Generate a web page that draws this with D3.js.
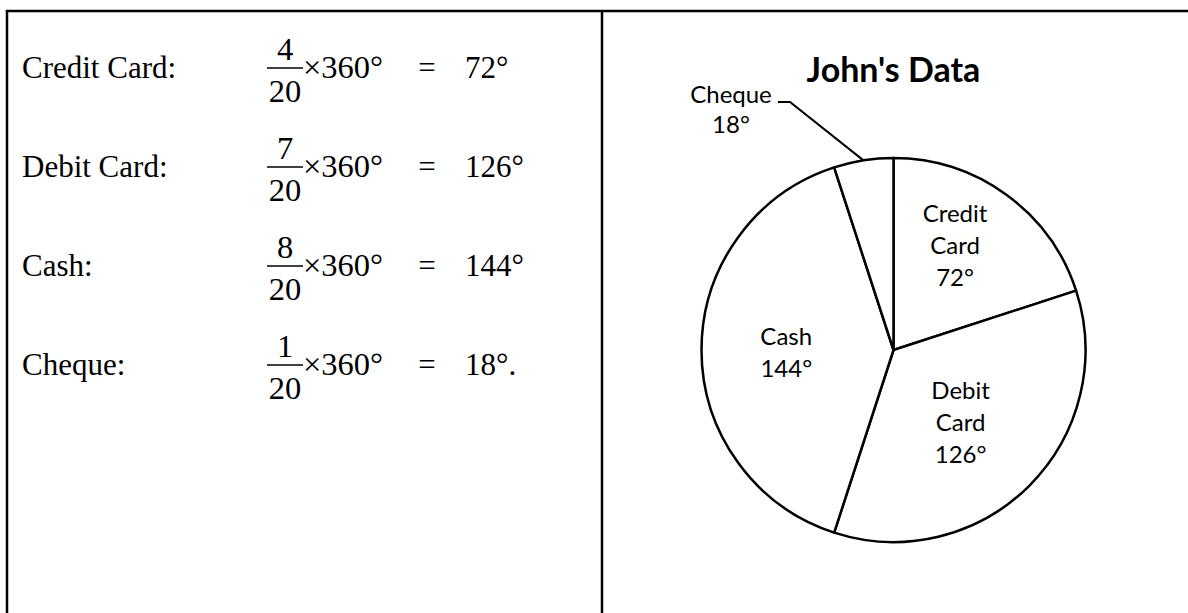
<!DOCTYPE html>
<html>
<head>
<meta charset="utf-8">
<script src="https://cdn.jsdelivr.net/npm/d3@7"></script>
<style>
  body { margin: 0; background: #fff; }
  svg { display: block; }
</style>
</head>
<body>
<div id="chart"></div>
<script>
const categories = ["Credit Card", "Debit Card", "Cash", "Cheque"];
const counts = [4, 7, 8, 1];
const total = 20;
const degrees = [72, 126, 144, 18];
const pieLabels = [["Credit", "Card", "72°"], ["Debit", "Card", "126°"], ["Cash", "144°"], ["Cheque", "18°"]];
const title = "John's Data";

const W = 1188, H = 613;
const serif = "'Liberation Serif', 'Times New Roman', serif";
const sans = "Lato, 'Open Sans', sans-serif";

const svg = d3.select("#chart").append("svg").attr("width", W).attr("height", H);

// Table borders (the bottom and right edges are cut off in the picture)
const borders = svg.append("g").attr("stroke", "#000").attr("stroke-width", 2.5);
borders.append("line").attr("x1", 5.8).attr("x2", W).attr("y1", 11).attr("y2", 11);
borders.append("line").attr("x1", 7).attr("x2", 7).attr("y1", 11).attr("y2", H);
borders.append("line").attr("x1", 602).attr("x2", 602).attr("y1", 11).attr("y2", H);

// Left cell: the working for each angle
const rowY = d3.scalePoint().domain(categories).range([68, 365]);
const rows = svg.append("g").style("font-family", serif).style("font-size", "31px").attr("fill", "#000")
  .selectAll("g").data(categories).join("g")
  .attr("transform", d => `translate(0,${rowY(d)})`);

rows.append("text").attr("x", 22).attr("y", 10).text(d => d + ":");
const math = rows.append("g").style("font-size", "32.5px");
math.append("text").attr("x", 285).attr("y", -8).attr("text-anchor", "middle").text((d, i) => counts[i]);
math.append("line").attr("x1", 267).attr("x2", 303).attr("y1", 0).attr("y2", 0).attr("stroke", "#000").attr("stroke-width", 1.3);
math.append("text").attr("x", 285).attr("y", 34).attr("text-anchor", "middle").text(total);
math.append("text").attr("x", 303).attr("y", 10).text("×360°");
rows.append("text").attr("x", 427).attr("y", 10).attr("text-anchor", "middle").text("=");
rows.append("text").attr("x", 465).attr("y", 10).text((d, i) => degrees[i] + "°" + (i === categories.length - 1 ? "." : ""));

// Right cell: the pie chart
const cx = 893.5, cy = 350, r = 192;
const g = svg.append("g").attr("transform", `translate(${cx},${cy})`);

const pie = d3.pie().sort(null).value(d => d);
const arcs = pie(counts);
const arc = d3.arc().innerRadius(0).outerRadius(r);

g.selectAll("path").data(arcs).join("path")
  .attr("d", arc)
  .attr("fill", "#fff")
  .attr("stroke", "#000")
  .attr("stroke-width", 2.5)
  .attr("stroke-linejoin", "round");

svg.append("text").attr("x", cx).attr("y", 82).attr("text-anchor", "middle")
  .style("font-family", sans).style("font-size", "34px").style("font-weight", "700")
  .text(title);

// inside labels sit near the slice centroid, nudged a little like the original
const labelArc = d3.arc().innerRadius(0).outerRadius(r * 1.18);
const nudge = [[-5, -12], [-13, -7], [6, 3]];
const lineH = 32;

arcs.slice(0, 3).forEach((a, i) => {
  const [lx, ly] = labelArc.centroid(a);
  const lines = pieLabels[i];
  const t = g.append("text").attr("text-anchor", "middle")
    .style("font-family", sans).style("font-size", "24px").attr("fill", "#000");
  lines.forEach((s, j) => {
    t.append("tspan").attr("x", lx + nudge[i][0])
      .attr("y", ly + nudge[i][1] + (j - (lines.length - 1) / 2) * lineH + 8)
      .text(s);
  });
});

// the thin cheque slice gets an outside label with a leader line
const chq = arcs[3];
const midA = (chq.startAngle + chq.endAngle) / 2;
const edge = [Math.sin(midA) * r, -Math.cos(midA) * r];
const elbow = [790 - cx, 102 - cy];
g.append("polyline")
  .attr("points", [edge, elbow, [elbow[0] - 12, elbow[1]]].map(p => p.join(",")).join(" "))
  .attr("fill", "none").attr("stroke", "#000").attr("stroke-width", 2);

const ct = g.append("text").attr("text-anchor", "middle")
  .style("font-family", sans).style("font-size", "24px").attr("fill", "#000");
pieLabels[3].forEach((s, j) => {
  ct.append("tspan").attr("x", 731 - cx).attr("y", 103 - cy + j * 30).text(s);
});
</script>
</body>
</html>
